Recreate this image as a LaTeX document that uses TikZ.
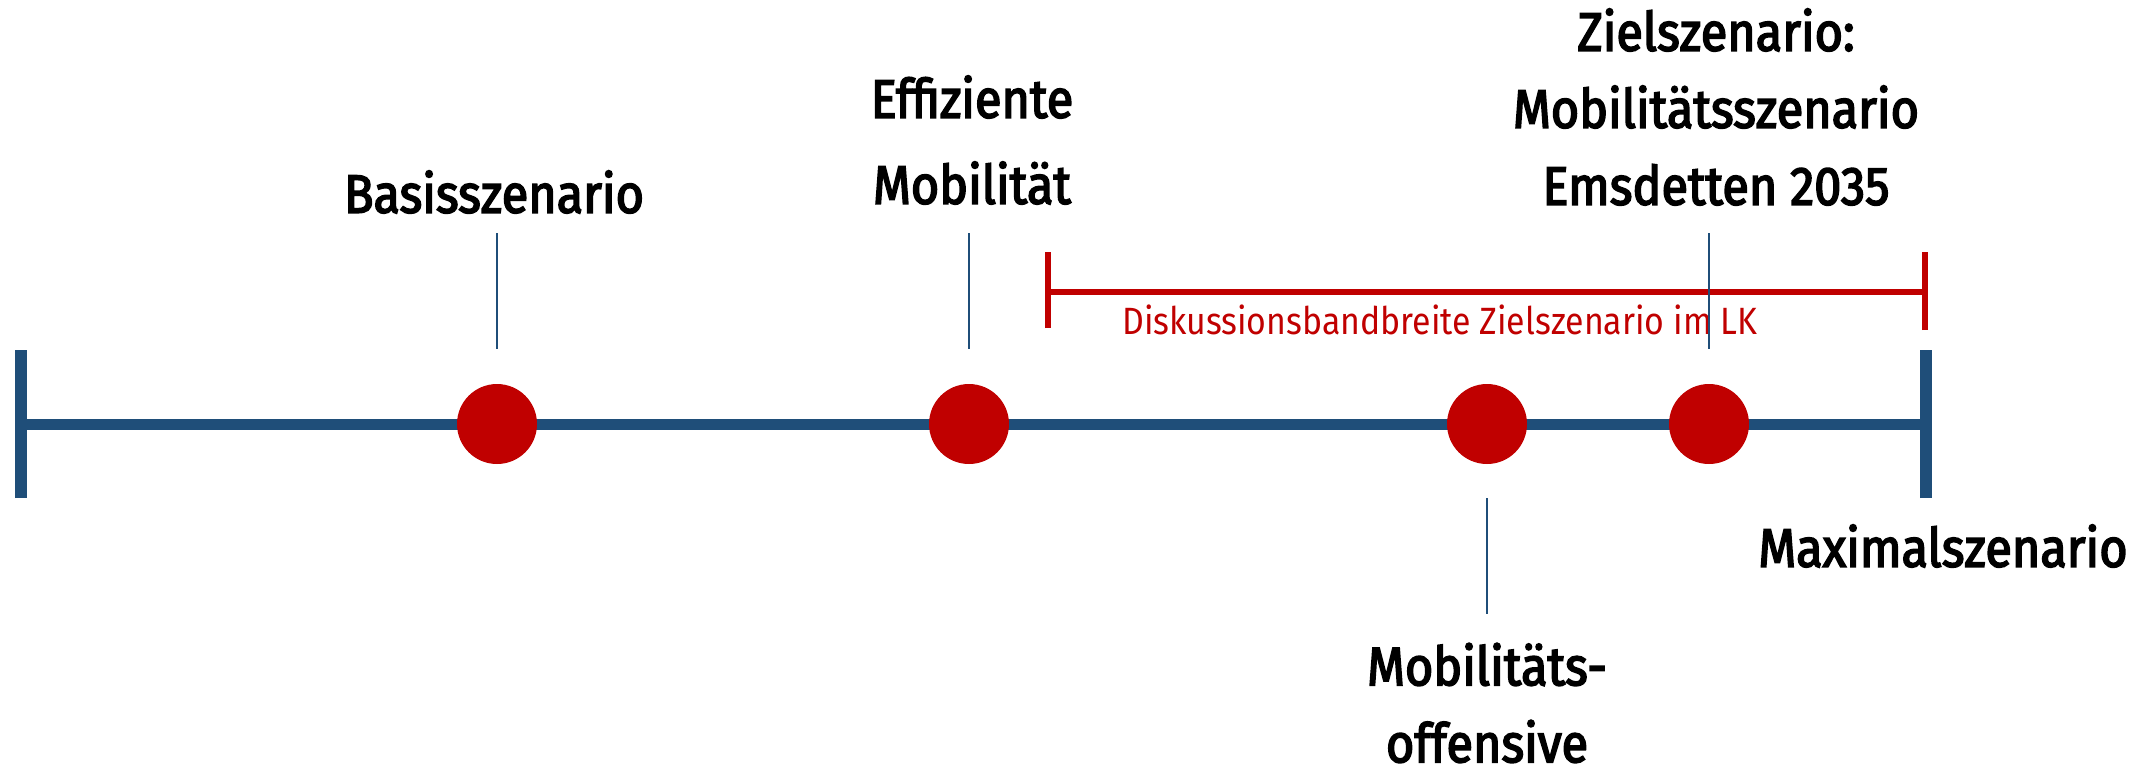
\documentclass[tikz,border=0pt]{standalone}
\usepackage{fontspec}
\setmainfont{Fira Sans}
\newfontfamily\labelfont[FakeStretch=0.9,FakeBold=3]{Fira Sans}
\newfontfamily\rangefont[FakeStretch=0.89]{Fira Sans}
\usetikzlibrary{positioning}
\definecolor{axisblue}{RGB}{31,78,121}
\definecolor{dotred}{RGB}{192,0,0}

\begin{document}
\begin{tikzpicture}
[x=0.5pt,y=-0.5pt,
 ax/.style={axisblue,line width=5.5pt},
 endtick/.style={axisblue,line width=6pt},
 pin/.style={axisblue,line width=1.2pt},
 rng/.style={dotred,line width=2.8pt},
 dot/.style={circle,fill=dotred,minimum size=40pt,inner sep=0pt},
 lab/.style={font=\labelfont\fontsize{27}{43}\selectfont,align=center,inner sep=0pt},
 rlab/.style={font=\rangefont\fontsize{19}{20}\selectfont,text=dotred,inner sep=0pt}]
\useasboundingbox (0,0) rectangle (2148,777);

% axis
\coordinate (L) at (21,424);
\coordinate (R) at (1926,424);
\draw [ax] (L) -- (R);
\draw [endtick] ([yshift=-37pt]L) -- ([yshift=37pt]L);
\draw [endtick] ([yshift=-37pt]R) -- ([yshift=37pt]R);

% range of discussion
\coordinate (RL) at (1048,292);
\coordinate (RR) at (1925,292);
\draw [rng] (RL) -- (RR);
\draw [rng] ([yshift=-18pt]RL) -- ([yshift=20pt]RL);
\draw [rng] ([yshift=-19pt]RR) -- ([yshift=20pt]RR);
\node [rlab] at (1440,320) (rtext) {Diskussionsbandbreite Zielszenario im LK};

% pins
\draw [pin] (497,233) -- (497,349);
\draw [pin] (969,233) -- (969,349);
\draw [pin] (1709,233) -- (1709,349);
\draw [pin] (1487,498) -- (1487,614);

% scenarios
\node [dot] at (497,424) (basis) {};
\node [dot] at (969,424) (eff) {};
\node [dot] at (1487,424) (off) {};
\node [dot] at (1709,424) (ziel) {};

\node [lab] at (494,192) (tbasis) {Basisszenario};
\node [lab] at (972,140) (teff) {Effiziente\\Mobilität};
\node [lab,font=\labelfont\fontsize{27}{38.5}\selectfont] at (1716,107) (tziel) {Zielszenario:\\Mobilitätsszenario\\Emsdetten 2035};
\node [lab] at (1943,546) (tmax) {Maximalszenario};
\node [lab,font=\labelfont\fontsize{27}{38.5}\selectfont] at (1487,703) (toff) {Mobilitäts-\\offensive};
\end{tikzpicture}
\end{document}
